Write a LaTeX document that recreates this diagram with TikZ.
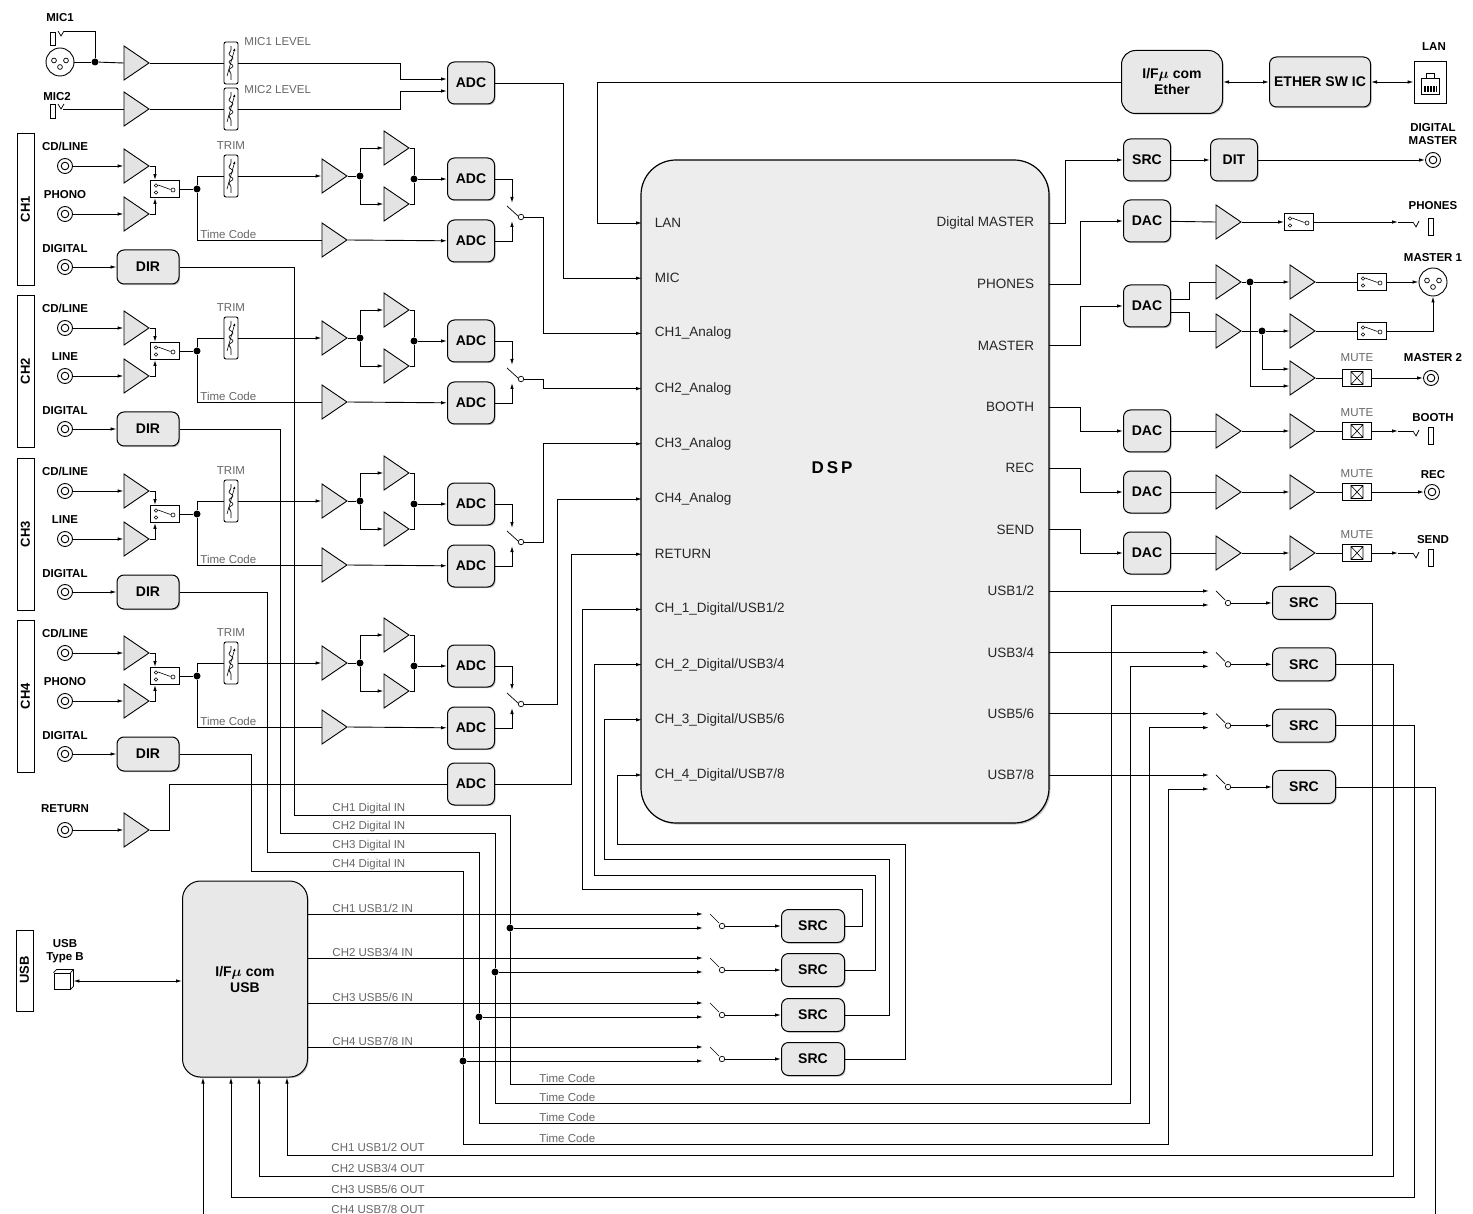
\documentclass[tikz,border=0pt]{standalone}
\usepackage{fontspec}
\setmainfont{Liberation Sans}
\usetikzlibrary{arrows.meta,shapes.geometric,shadows}

\tikzset{
  sig/.style={-{Latex[length=6pt,width=3.5pt]}},
  both/.style={{Latex[length=6pt,width=3.5pt]}-{Latex[length=6pt,width=3.5pt]}},
  blk/.style={draw, line width=1pt, rounded corners=7pt, fill=gray!18, inner sep=1pt, align=center,
    font=\bfseries\fontsize{14}{16}\selectfont, minimum width=47pt, minimum height=42pt,
    drop shadow={shadow xshift=1.2pt, shadow yshift=-1.2pt, opacity=.45}},
  src/.style={blk, minimum width=63pt, minimum height=33pt},
  amp/.style={isosceles triangle, isosceles triangle stretches, draw, fill=gray!22, inner sep=0pt,
    minimum width=34pt, minimum height=25pt},
  pot/.style={draw, rounded corners=2pt, fill=white, minimum width=14pt, minimum height=42pt, inner sep=0pt,
    path picture={\begin{scope}[shift={(path picture bounding box.center)}, line width=.6pt]
      \draw (0pt,17pt)--(0pt,11pt)--(-3pt,9pt)--(3pt,5pt)--(-3pt,1pt)--(3pt,-3pt)--(-3pt,-7pt)--(0pt,-9pt)--(0pt,-17pt);
      \draw[-{Latex[length=3pt,width=2.5pt]}] (-4pt,-13pt)--(4pt,15pt);
    \end{scope}}},
  sel/.style={draw, fill=white, minimum width=29pt, minimum height=17pt, inner sep=0pt,
    path picture={\begin{scope}[shift={(path picture bounding box.center)}, line width=.6pt]
      \draw (-9pt,3.5pt) circle (1.7pt) (-9pt,-3.5pt) circle (1.7pt) (8pt,-1pt) circle (2pt);
      \draw (-7pt,4pt)--(5.5pt,-.5pt);
    \end{scope}}},
  mute/.style={draw, fill=white, minimum width=29pt, minimum height=17pt, inner sep=0pt,
    path picture={\begin{scope}[shift={(path picture bounding box.center)}, line width=.6pt]
      \draw (-6pt,-6.5pt) rectangle (6pt,6.5pt) (-6pt,-6.5pt)--(6pt,6.5pt) (-6pt,6.5pt)--(6pt,-6.5pt);
    \end{scope}}},
  rca/.style={circle, draw, fill=white, minimum size=15pt, inner sep=0pt,
    path picture={\draw (path picture bounding box.center) circle (3.8pt);}},
  xlr/.style={circle, draw, fill=white, minimum size=28pt, inner sep=0pt,
    path picture={\begin{scope}[shift={(path picture bounding box.center)}, line width=.7pt]
      \draw (-6pt,1.5pt) circle (2.4pt) (6pt,1.5pt) circle (2.4pt) (0pt,-5pt) circle (2.4pt);
    \end{scope}}},
  usbj/.style={draw, fill=white, minimum size=16pt, inner sep=0pt,
    path picture={\begin{scope}[shift={(path picture bounding box.center)}]
      \fill[rounded corners=1pt] (-5.5pt,-4pt) rectangle (5.5pt,4pt);
      \fill[white] (-3pt,-1pt) rectangle (3pt,2pt);
    \end{scope}}},
  lanj/.style={draw, fill=white, minimum width=32pt, minimum height=42pt, inner sep=0pt,
    path picture={\begin{scope}[shift={(path picture bounding box.center)}, line width=.6pt]
      \draw (-9pt,-12pt) rectangle (9pt,4pt) (-4pt,4pt) rectangle (4pt,9pt);
      \foreach \p in {-6,-4.5,...,6} \draw[line width=.4pt] (\p pt,-10pt)--(\p pt,-4pt);
    \end{scope}}},
  dot/.style={circle, fill, inner sep=0pt, minimum size=7pt},
  swo/.style={circle, draw, fill=white, inner sep=0pt, minimum size=5.5pt, line width=.7pt},
  lab/.style={font=\bfseries\fontsize{11.5}{13}\selectfont, align=center, inner sep=0pt},
  chlab/.style={font=\bfseries\fontsize{13}{14}\selectfont, rotate=90},
  gl/.style={font=\fontsize{11.5}{12}\selectfont, text=black!60, inner sep=1pt},
  port/.style={font=\fontsize{13.5}{15}\selectfont, text=black!85}
}

% switch with inputs from the left
\newcommand\swt[3]{%
  \coordinate (#1-a) at (#2,#3-12);
  \coordinate (#1-b) at (#2,#3+2);
  \draw[line width=.7pt] (#2+7,#3-12) -- (#2+16,#3-3);
  \node[swo] (#1-o) at (#2+19,#3) {};
}
% switch with inputs from above and below
\newcommand\vswt[3]{%
  \coordinate (#1-a) at (#2,#3-14);
  \coordinate (#1-b) at (#2,#3+4);
  \draw[line width=.7pt] (#2-5,#3-11) -- (#2+6,#3-1);
  \node[swo] (#1-o) at (#2+9,#3) {};
}
% phone jack, right side
\newcommand\phj[3]{%
  \coordinate (#1) at (#2-4,#3);
  \coordinate (#1-a) at (#2-19,#3);
  \draw[line width=.7pt] (#2-4,#3) -- (#2-1,#3+5) -- (#2+2,#3-1);
  \draw (#2+11,#3-4) rectangle (#2+16,#3+13);
}

\begin{document}
\begin{tikzpicture}[x=1pt,y=-1pt,line width=0.9pt]
\clip (0,0) rectangle (1473,1214);

% DSP
\node[draw, line width=1.2pt, rounded corners=35pt, fill=gray!14, minimum width=408pt, minimum height=663pt,
  drop shadow={shadow xshift=1.5pt, shadow yshift=-1.5pt, opacity=.45}] (dsp) at (845,491.5) {};
\node[font=\bfseries\fontsize{17}{18}\selectfont] at (832,468) {D\kern3pt S\kern3pt P};
\foreach \n [count=\i from 0] in {LAN,MIC,CH1\_Analog,CH2\_Analog,CH3\_Analog,CH4\_Analog,RETURN,
    {CH\_1\_Digital/USB1/2},{CH\_2\_Digital/USB3/4},{CH\_3\_Digital/USB5/6},{CH\_4\_Digital/USB7/8}}{
  \node[port, anchor=west] at (651,223+55.2*\i) {\n};
  \coordinate (L\i) at (642,223+55.2*\i);
}
\foreach \n [count=\i from 0] in {Digital MASTER,PHONES,MASTER,BOOTH,REC,SEND,{USB1/2},{USB3/4},{USB5/6},{USB7/8}}{
  \node[port, anchor=east] at (1038,223+61.33*\i) {\n};
  \coordinate (R\i) at (1049,223+61.33*\i);
}

% MIC
\node[lab] at (60,18) {MIC1};
\node[lab] at (57,97) {MIC2};
\draw (50,32) rectangle (55,45);
\draw[line width=.7pt] (58,31) -- (61,36) -- (64,31);
\coordinate (mj1) at (64,31);
\node[xlr] (xl1) at (60,62) {};
\node[dot] (dk) at (95,62) {};
\draw (mj1) -| (dk);
\draw (xl1) -- (dk);
\node[amp] (ma1) at (133,63) {};
\draw (dk) -- (ma1.west);
\node[pot] (lv1) at (231,63) {};
\draw (ma1.east) -- (lv1.west);
\node[gl, anchor=west] at (243,42) {MIC1 LEVEL};
\draw (50,104) rectangle (55,118);
\draw[line width=.7pt] (58,104) -- (61,109) -- (64,104);
\coordinate (mj2) at (63,109);
\node[amp] (ma2) at (133,109) {};
\draw (mj2) -- (ma2.west);
\node[pot] (lv2) at (231,109) {};
\draw (ma2.east) -- (lv2.west);
\node[gl, anchor=west] at (243,90) {MIC2 LEVEL};
\node[blk] (adm) at (471,83) {ADC};
\draw[sig] (lv1.east) -- (400,63) |- ([yshift=4pt]adm.west);
\draw[sig] (lv2.east) -- (400,109) |- ([yshift=-8pt]adm.west);
\draw[sig] (adm.east) -| (563,0 |- L1) -- (L1);

% channels
\foreach \c/\o/\nm/\vx in {1/0/PHONO/543,2/162/LINE/543,3/325/LINE/543,4/487/PHONO/557}{
  \pgfmathtruncatemacro\ka{\c+1}
  \draw (17,133+\o) rectangle (34,285+\o);
  \node[chlab] at (25.5,209+\o) {CH\c};
  \node[lab] at (65,146+\o) {CD/LINE};
  \node[lab] at (65,195+\o) {\nm};
  \node[lab] at (65,249+\o) {DIGITAL};
  \node[rca] (jc\c) at (65,166+\o) {};
  \node[rca] (jp\c) at (65,214+\o) {};
  \node[rca] (jd\c) at (65,267+\o) {};
  \node[amp] (aa\c) at (133,166+\o) {};
  \node[amp] (ab\c) at (133,214+\o) {};
  \node[sel] (sl\c) at (165,189+\o) {};
  \node[dot] (d\c) at (197,189+\o) {};
  \node[pot] (tr\c) at (231,176+\o) {};
  \node[gl] at (231,146+\o) {TRIM};
  \node[amp] (g\c) at (331,176+\o) {};
  \node[dot] (s\c) at (360,176+\o) {};
  \node[amp] (u\c) at (393,148+\o) {};
  \node[amp] (l\c) at (393,204+\o) {};
  \node[dot] (m\c) at (414,179+\o) {};
  \node[blk] (ada\c) at (471,179+\o) {ADC};
  \node[amp] (t\c) at (331,240+\o) {};
  \node[blk] (adb\c) at (471,241+\o) {ADC};
  \node[blk, minimum width=62pt, minimum height=34pt] (dir\c) at (148,267+\o) {DIR};
  \vswt{sw\c}{512}{217+\o}
  \draw[sig] (jc\c) -- (aa\c.west);
  \draw[sig] (jp\c) -- (ab\c.west);
  \draw[sig] (jd\c) -- (dir\c);
  \draw[sig] (aa\c.east) -| ([xshift=-10pt]sl\c.north);
  \draw[sig] (ab\c.east) -| ([xshift=-10pt]sl\c.south);
  \draw (sl\c) -- (d\c);
  \draw (d\c) |- (tr\c.west);
  \draw[sig] (tr\c.east) -- (g\c.west);
  \draw (g\c.east) -- (s\c);
  \draw[sig] (s\c) |- (u\c.west);
  \draw[sig] (s\c) |- (l\c.west);
  \draw (u\c.east) -| (m\c);
  \draw (l\c.east) -| (m\c);
  \draw[sig] (m\c) -- (ada\c);
  \draw (d\c) |- (t\c.west);
  \node[gl, anchor=south west] at (199,240+\o) {Time Code};
  \draw[sig] (t\c.east) -- (adb\c);
  \draw[sig] (ada\c.east) -| (sw\c-a);
  \draw[sig] (adb\c.east) -| (sw\c-b);
  \draw[sig] (sw\c-o.east) -| (\vx,0 |- L\ka) -- (L\ka);
}

% RETURN
\node[lab] at (65,809) {RETURN};
\node[rca] (rj) at (65,830) {};
\node[amp] (ra) at (133,830) {};
\node[blk] (adr) at (471,784) {ADC};
\draw[sig] (rj) -- (ra.west);
\draw (ra.east) -| (169,0 |- adr) -- (adr);
\draw[sig] (adr.east) -| (571,0 |- L6) -- (L6);

% LAN
\node[blk, minimum width=101pt, minimum height=63pt, rounded corners=14pt] (eth) at (1172,82) {I/F{\boldmath$\mu$} com\\Ether};
\node[blk, minimum width=101pt, minimum height=50pt] (esw) at (1320,82) {ETHER SW IC};
\node[lanj] (lan) at (1430,82) {};
\node[lab] at (1434,47) {LAN};
\draw[both] (eth.east) -- (esw.west);
\draw[both] (esw.east) -- (lan.west);
\draw[sig] (eth.west) -| (597,0 |- L0) -- (L0);

% DIGITAL MASTER
\node[blk] (srct) at (1147,160) {SRC};
\node[blk] (dit) at (1234,160) {DIT};
\node[rca] (dmj) at (1433,160) {};
\node[lab] at (1433,134) {DIGITAL\\MASTER};
\draw[sig] (R0) -| (1065,0 |- srct) -- (srct);
\draw[sig] (srct) -- (dit);
\draw[sig] (dit) -- (dmj);

% PHONES
\node[blk] (dac1) at (1147,221) {DAC};
\node[amp] (pa) at (1225,222) {};
\node[sel] (psw) at (1299,222) {};
\phj{pj}{1417}{222}
\node[lab] at (1433,206) {PHONES};
\draw[sig] (R1) -| (1080,0 |- dac1) -- (dac1);
\draw (dac1) -- (pa.west);
\draw[sig] (pa.east) -- (psw);
\draw[sig] (psw) -- (pj-a);
\draw (pj-a) -- (pj);

% MASTER
\node[blk] (dac2) at (1147,306) {DAC};
\node[amp] (ma) at (1225,282) {};
\node[amp] (mb) at (1225,331) {};
\node[dot] (dm1) at (1250,282) {};
\node[dot] (dm2) at (1262,331) {};
\node[amp] (mc) at (1299,282) {};
\node[amp] (md) at (1299,331) {};
\node[amp] (me) at (1299,378) {};
\node[sel] (ms1) at (1372,282) {};
\node[sel] (ms2) at (1372,331) {};
\node[xlr] (m1j) at (1433,282) {};
\node[mute] (mt2) at (1357,378) {};
\node[rca] (m2j) at (1431,378) {};
\node[lab] at (1433,258) {MASTER 1};
\node[lab] at (1433,358) {MASTER 2};
\node[gl] at (1357,358) {MUTE};
\draw[sig] (R2) -| (1080,0 |- dac2) -- (dac2);
\draw ([yshift=7pt]dac2.east) -| (1189,0 |- ma) -- (ma.west);
\draw ([yshift=-6pt]dac2.east) -| (1189,0 |- mb) -- (mb.west);
\draw (ma.east) -- (dm1);
\draw[sig] (dm1) -- (mc.west);
\draw (mb.east) -- (dm2);
\draw[sig] (dm2) -- (md.west);
\draw[sig] (dm1) |- ([yshift=-8pt]me.west);
\draw[sig] (dm2) |- ([yshift=9pt]me.west);
\draw (mc.east) -- (ms1);
\draw[sig] (ms1) -- (m1j);
\draw (md.east) -- (ms2);
\draw[sig] (ms2) -| (m1j.south);
\draw (me.east) -- (mt2);
\draw[sig] (mt2) -- (m2j);

% BOOTH, REC, SEND
\foreach \k/\y in {3/431,4/492,5/553}{
  \node[blk] (dac\k) at (1147,\y) {DAC};
  \node[amp] (ba\k) at (1225,\y) {};
  \node[amp] (bb\k) at (1299,\y) {};
  \node[mute] (mt\k) at (1357,\y) {};
  \node[gl] at (1357,\y-18) {MUTE};
  \draw[sig] (R\k) -| (1080,0 |- dac\k) -- (dac\k);
  \draw (dac\k) -- (ba\k.west);
  \draw[sig] (ba\k.east) -- (bb\k.west);
  \draw (bb\k.east) -- (mt\k);
}
\phj{bj}{1417}{431}
\node[lab] at (1433,418) {BOOTH};
\draw[sig] (mt3) -- (bj-a);
\draw (bj-a) -- (bj);
\node[rca] (rcj) at (1432,492) {};
\node[lab] at (1433,475) {REC};
\draw[sig] (mt4) -- (rcj);
\phj{sj}{1417}{553}
\node[lab] at (1433,540) {SEND};
\draw[sig] (mt5) -- (sj-a);
\draw (sj-a) -- (sj);

% USB
\draw (16,930) rectangle (33,1011);
\node[chlab] at (24.5,970) {USB};
\node[lab] at (65,951) {USB\\Type B};
\node[usbj] (ub) at (62,981) {};
\draw[line width=.7pt] (ub.north west) -- ++(3pt,3pt) -| ([shift={(3pt,3pt)}]ub.south east) -- (ub.south east);
\draw[line width=.7pt] (ub.north east) -- ++(3pt,3pt);
\node[blk, minimum width=125pt, minimum height=196pt, rounded corners=18pt] (usb) at (245,979) {I/F{\boldmath$\mu$} com\\USB};
\draw[both] ([xshift=3pt]ub.east) -- (usb.west |- ub.east);

\foreach \c in {1,2,3,4}{
  \pgfmathtruncatemacro\k{\c+5}
  \pgfmathsetmacro\yb{235+61.33*\k}
  \swt{rs\c}{1209}{\yb}
  \node[src] (rsrc\c) at (1304,\yb) {SRC};
  \draw[sig] (R\k) -- (rs\c-a);
  \draw[sig] (rs\c-o) -- (rsrc\c);
}
\foreach \c/\y in {1/926,2/970,3/1015,4/1059}{
  \pgfmathtruncatemacro\ua{2*\c-1}
  \pgfmathtruncatemacro\ub{2*\c}
  \swt{bs\c}{703}{\y}
  \node[src] (bsrc\c) at (813,\y) {SRC};
  \draw[sig] (bs\c-o) -- (bsrc\c);
  \draw[sig] (usb.east |- bs\c-a) -- (bs\c-a);
  \node[gl, anchor=south west] at (331,\y-12) {CH\c\ USB\ua/\ub\ IN};
}
\foreach \c/\dx/\dy/\vx/\ty/\tx/\ox/\oy/\ix/\rx/\ry/\ux in {
    1/294/815/510/1084/1111/862/889/582/1372/1155/287,
    2/280/833/495/1103/1130/875/875/594/1393/1176/259,
    3/267/852/479/1123/1149/889/859/604/1414/1197/231,
    4/251/871/463/1144/1168/905/844/617/1435/1217/203}{
  \pgfmathtruncatemacro\kd{\c+6}
  \pgfmathtruncatemacro\ua{2*\c-1}
  \pgfmathtruncatemacro\ub{2*\c}
  \node[dot] (dd\c) at (\vx,0 |- bs\c-b) {};
  \draw (dir\c.east) -| (\dx,\dy) -| (dd\c);
  \draw[sig] (dd\c) -- (bs\c-b);
  \draw[sig] (dd\c) |- (\tx,\ty) |- (rs\c-b);
  \draw[sig] (bsrc\c.east) -| (\ox,\oy) -| (\ix,0 |- L\kd) -- (L\kd);
  \draw[sig] (rsrc\c.east) -| (\rx,\ry) -| (usb.south -| \ux,0);
  \node[gl, anchor=south west] at (331,\dy) {CH\c\ Digital IN};
  \node[gl, anchor=south west] at (538,\ty) {Time Code};
  \node[gl, anchor=south west, inner sep=0pt] at (331,\ry-2.5) {CH\c\ USB\ua/\ub\ OUT};
}
\end{tikzpicture}
\end{document}
